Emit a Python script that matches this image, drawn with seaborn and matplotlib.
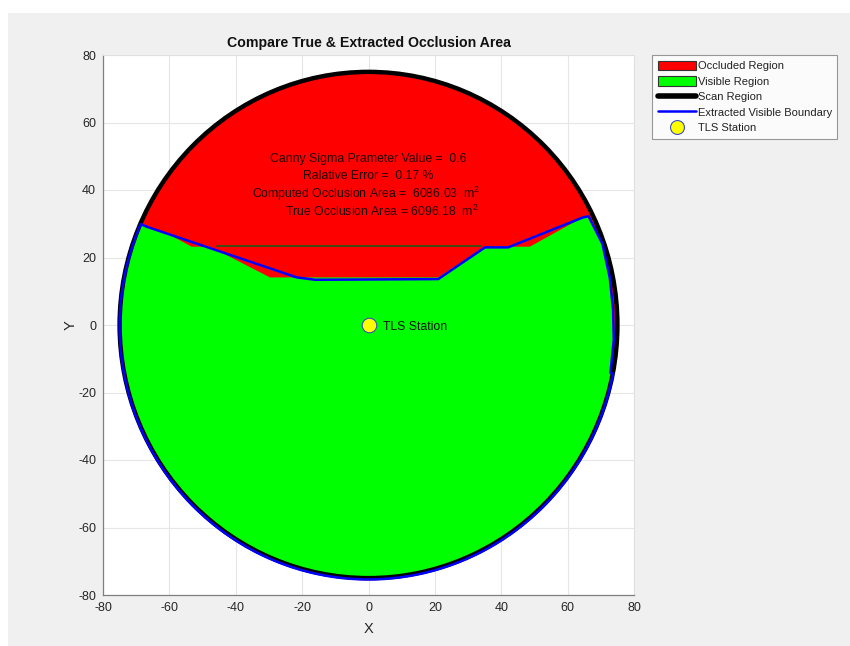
import numpy as np
import matplotlib
matplotlib.use("Agg")
import matplotlib.pyplot as plt
from matplotlib.patches import Circle, Patch, Rectangle
from matplotlib.lines import Line2D
import seaborn as sns

# ---- data -------------------------------------------------------------
scan_radius = 75.0
station_x = [0.0]
station_y = [0.0]

# true visible-region boundary (upper part, left to right, then right flank)
true_x = [-67.3, -59.8, -53.3, -47.7, -45.7, -29.7, 21.0, 35.1, 48.6, 64.6, 66.3, 70.5, 72.7, 73.7, 73.9, 72.9]
true_y = [29.1, 26.7, 23.2, 23.2, 22.2, 14.1, 14.1, 23.2, 23.2, 31.9, 32.2, 24.0, 14.0, 4.4, -4.4, -14.2]

# extracted visible boundary (upper part, left to right, then right flank)
ext_x = [-66.8, -21.6, -16.1, 21.0, 35.1, 42.1, 64.7, 66.3, 70.5, 72.7, 73.7, 73.9, 72.9]
ext_y = [29.1, 14.1, 13.4, 13.6, 23.0, 23.0, 31.9, 32.2, 24.0, 14.0, 4.4, -4.4, -14.2]
ext_center = (0.0, -0.4)

# thin degenerate edge of the true polygon along the occlusion shelf
shelf_x = [-45.7, 34.0]
shelf_y = [23.3, 23.3]

info_lines = [
    "Canny Sigma Prameter Value =  0.6",
    "Ralative Error =  0.17 %",
    "Computed Occlusion Area =  6086.03  m$^2$",
    "True Occlusion Area = 6096.18  m$^2$",
]
info_x = [0.0, 0.0, -0.6, 4.0]
info_y = [49.2, 44.1, 38.8, 33.8]

ticks = [-80, -60, -40, -20, 0, 20, 40, 60, 80]


def close_with_arc(xs, ys, radius, center=(0.0, 0.0), n=200):
    """Close an open boundary by running along the scan circle
    clockwise from the last vertex back to the first one."""
    cx, cy = center
    a_end = np.arctan2(ys[-1] - cy, xs[-1] - cx)
    a_start = np.arctan2(ys[0] - cy, xs[0] - cx)
    if a_start > a_end:
        a_start -= 2 * np.pi
    ang = np.linspace(a_end, a_start, n)
    px = list(xs) + list(cx + radius * np.cos(ang)) + [xs[0]]
    py = list(ys) + list(cy + radius * np.sin(ang)) + [ys[0]]
    return px, py


sns.set_style("white")
plt.rcParams["font.family"] = ["Liberation Sans", "DejaVu Sans"]
plt.rcParams["mathtext.fontset"] = "custom"
plt.rcParams["mathtext.rm"] = "Liberation Sans"
plt.rcParams["mathtext.it"] = "Liberation Sans"
plt.rcParams["axes.unicode_minus"] = False

fig = plt.figure(figsize=(8.5, 6.46), dpi=100)
fig.patch.set_facecolor("white")
fig.add_artist(Rectangle((8 / 850, 0), 1, 1 - 13 / 646, transform=fig.transFigure,
                         facecolor="#f0f0f0", edgecolor="none", zorder=-10))

ax = fig.add_axes([103 / 850, 1 - 595 / 646, 531 / 850, 540 / 646])
ax.set_facecolor("white")

# occluded region: the whole scan disc in red, visible part painted over
ax.add_patch(Circle((0, 0), scan_radius, facecolor="#ff0000", edgecolor="none", zorder=2))
gx, gy = close_with_arc(true_x, true_y, scan_radius - 0.4)
ax.fill(gx, gy, color="#00ff00", lw=0, zorder=3)
sns.lineplot(x=shelf_x, y=shelf_y, color="#1d5a12", lw=1.2, sort=False,
             estimator=None, ax=ax, zorder=4)

# scan region outline
ax.add_patch(Circle((0, 0), scan_radius, facecolor="none", edgecolor="black", lw=3.2, zorder=5))

# extracted boundary
bx, by = close_with_arc(ext_x, ext_y, scan_radius, center=ext_center)
sns.lineplot(x=bx, y=by, color="#0000ff", lw=1.8, sort=False, estimator=None, ax=ax, zorder=6)

# TLS station
sns.scatterplot(x=station_x, y=station_y, s=110, color="#ffff00", edgecolor="#3b4bc8",
                linewidth=0.8, ax=ax, zorder=7)
ax.text(station_x[0] + 4.4, station_y[0] - 0.5, "TLS Station", fontsize=8.8,
        ha="left", va="center", color="#111111", zorder=8)

for t, x, y in zip(info_lines, info_x, info_y):
    ax.text(x, y, t, fontsize=8.8, ha="center", va="center", color="#220000", zorder=8)

ax.set_xlim(-80, 80)
ax.set_ylim(-80, 80)
ax.set_xticks(ticks)
ax.set_yticks(ticks)
ax.tick_params(direction="in", length=4, width=0.8, colors="#404040", labelsize=9,
               labelcolor="#262626", pad=5)
ax.grid(True, color="#e6e6e6", lw=0.8, zorder=0)
ax.set_axisbelow(True)
for side in ("left", "bottom"):
    ax.spines[side].set_color("#7f7f7f")
    ax.spines[side].set_linewidth(0.9)
for side in ("top", "right"):
    ax.spines[side].set_color("#e0e0e0")
    ax.spines[side].set_linewidth(0.8)

ax.set_xlabel("X", fontsize=10.5, color="#262626", labelpad=6)
ax.set_ylabel("Y", fontsize=10.5, color="#262626", labelpad=0)
ax.set_title("Compare True & Extracted Occlusion Area", fontsize=10.2,
             fontweight="bold", color="#111111", pad=6)

handles = [
    Patch(facecolor="#ff0000", edgecolor="#333333", lw=0.8, label="Occluded Region"),
    Patch(facecolor="#00ff00", edgecolor="#333333", lw=0.8, label="Visible Region"),
    Line2D([], [], color="black", lw=4, label="Scan Region"),
    Line2D([], [], color="#0000ff", lw=1.8, label="Extracted Visible Boundary"),
    Line2D([], [], ls="none", marker="o", markersize=10, markerfacecolor="#ffff00",
           markeredgecolor="#3b4bc8", markeredgewidth=0.8, label="TLS Station"),
]
leg = fig.legend(handles=handles, loc="upper left",
                 bbox_to_anchor=(652 / 850, 1 - 55 / 646), fontsize=8,
                 frameon=True, fancybox=False, edgecolor="#808080",
                 handlelength=3.5, handleheight=1.0, handletextpad=0.1,
                 labelspacing=0.42, borderpad=0.5, borderaxespad=0)
leg.get_frame().set_linewidth(0.8)
for txt in leg.get_texts():
    txt.set_color("#222222")

fig.savefig("out.png", dpi=100)
